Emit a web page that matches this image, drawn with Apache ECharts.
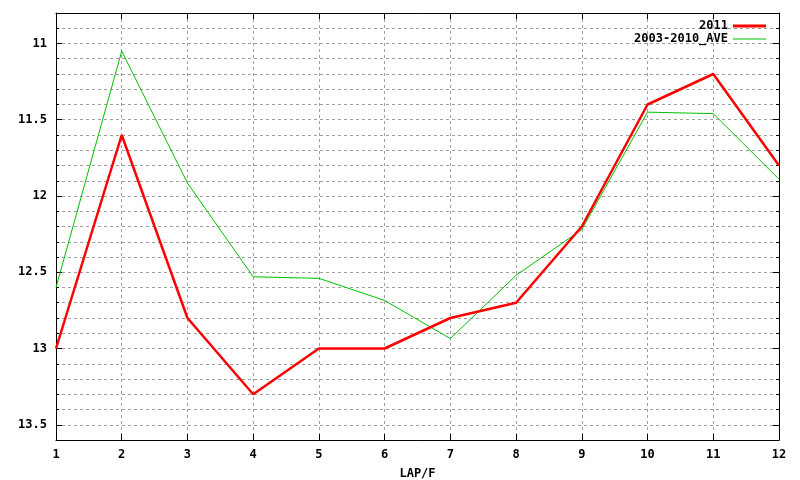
<!DOCTYPE html>
<html>
<head>
<meta charset="utf-8">
<script src="https://cdn.jsdelivr.net/npm/echarts@6/dist/echarts.min.js"></script>
<style>html,body{margin:0;padding:0;background:#fff}#c{width:800px;height:480px}</style>
</head>
<body>
<div id="c"></div>
<script>
var laps = [1, 2, 3, 4, 5, 6, 7, 8, 9, 10, 11, 12];
var s2011 = [13.0, 11.6, 12.8, 13.3, 13.0, 13.0, 12.8, 12.7, 12.2, 11.4, 11.2, 11.8];
var sAve = [12.6, 11.05, 11.915, 12.53, 12.54, 12.685, 12.935, 12.52, 12.22, 11.45, 11.46, 11.89];
var yLabels = [11, 11.5, 12, 12.5, 13, 13.5];
var xLabels = [1, 2, 3, 4, 5, 6, 7, 8, 9, 10, 11, 12];

var font = 'DejaVu Sans Mono';
var yMin = 10.8, yMax = 13.6;

function pairs(v) { return laps.map(function (x, i) { return [x, v[i]]; }); }

var chart = echarts.init(document.getElementById('c'), null, { renderer: 'canvas' });
var gridLine = { show: true, lineStyle: { color: '#a0a0a0', type: [3, 3], width: 1 } };
var axLine = { show: true, lineStyle: { color: '#000', width: 1 } };

chart.setOption({
  animation: false,
  backgroundColor: '#fff',
  grid: { left: 56, right: 21, top: 13, bottom: 40, containLabel: false, outerBoundsMode: 'none' },
  legend: [
    {
      data: ['2011'], right: 34, top: 20, padding: 0, align: 'right',
      itemWidth: 33, itemHeight: 3, icon: 'rect',
      textStyle: { fontFamily: font, fontWeight: 'bold', fontSize: 12, color: '#000' }
    },
    {
      data: ['2003-2010_AVE'], right: 34, top: 33, padding: 0, align: 'right',
      itemWidth: 33, itemHeight: 1, icon: 'rect',
      textStyle: { fontFamily: font, fontWeight: 'bold', fontSize: 12, color: '#000' }
    }
  ],
  xAxis: [
    {
      type: 'value', min: 1, max: 12, interval: 1, position: 'bottom',
      name: 'LAP/F', nameLocation: 'middle', nameGap: 28,
      nameTextStyle: { fontFamily: font, fontWeight: 'bold', fontSize: 12, color: '#000' },
      axisLine: axLine,
      axisTick: { show: true, inside: true, length: 6, lineStyle: { color: '#000' } },
      axisLabel: { margin: 9, fontFamily: font, fontWeight: 'bold', fontSize: 12, color: '#000',
        customValues: xLabels, formatter: function (v) { return String(v); } },
      splitLine: gridLine
    },
    {
      type: 'value', min: 1, max: 12, interval: 1, position: 'top',
      axisLine: axLine,
      axisTick: { show: true, inside: true, length: 6, lineStyle: { color: '#000' } },
      axisLabel: { show: false },
      splitLine: { show: false }
    }
  ],
  yAxis: [
    {
      type: 'value', inverse: true, min: yMin, max: yMax, interval: 0.1, position: 'left',
      axisLine: axLine,
      axisTick: { show: true, inside: true, length: 3, lineStyle: { color: '#000' } },
      axisLabel: { margin: 9, fontFamily: font, fontWeight: 'bold', fontSize: 12, color: '#000',
        customValues: yLabels, formatter: function (v) { return String(v); } },
      splitLine: gridLine
    },
    {
      type: 'value', inverse: true, min: yMin, max: yMax, interval: 0.1, position: 'left',
      axisLine: { show: false },
      axisTick: { show: true, inside: true, length: 6, customValues: yLabels, lineStyle: { color: '#000' } },
      axisLabel: { show: false },
      splitLine: { show: false }
    },
    {
      type: 'value', inverse: true, min: yMin, max: yMax, interval: 0.1, position: 'right',
      axisLine: axLine,
      axisTick: { show: true, inside: true, length: 3, lineStyle: { color: '#000' } },
      axisLabel: { show: false },
      splitLine: { show: false }
    },
    {
      type: 'value', inverse: true, min: yMin, max: yMax, interval: 0.1, position: 'right',
      axisLine: { show: false },
      axisTick: { show: true, inside: true, length: 6, customValues: yLabels, lineStyle: { color: '#000' } },
      axisLabel: { show: false },
      splitLine: { show: false }
    }
  ],
  series: [
    {
      name: '2011', type: 'line', data: pairs(s2011), showSymbol: false, symbol: 'none',
      lineStyle: { color: '#ff0000', width: 2.5 }, itemStyle: { color: '#ff0000' }, z: 3
    },
    {
      name: '2003-2010_AVE', type: 'line', data: pairs(sAve), showSymbol: false, symbol: 'none',
      lineStyle: { color: '#00c000', width: 1 }, itemStyle: { color: '#00c000' }, z: 2
    }
  ]
});
</script>
</body>
</html>
